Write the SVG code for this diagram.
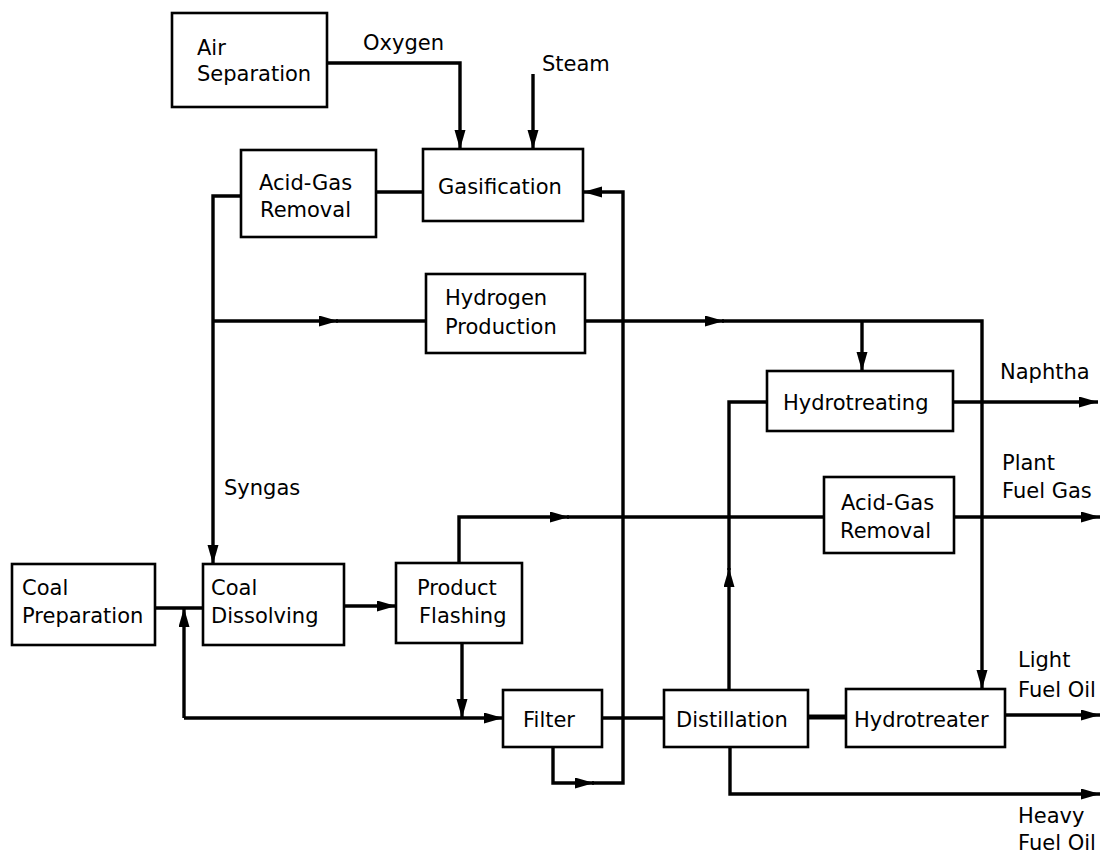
<svg xmlns="http://www.w3.org/2000/svg" width="1106" height="855" viewBox="0 0 1106 855">
<style>
.box{fill:#fff;stroke:#000;stroke-width:2.6}
.t{font-family:"DejaVu Sans",sans-serif;font-size:21px;fill:#000}
.c{fill:none;stroke:#000;stroke-width:3.4;stroke-linejoin:miter}
</style>
<defs>
<marker id="ah" markerUnits="userSpaceOnUse" markerWidth="20" markerHeight="12" refX="19" refY="5.5" orient="auto">
<path d="M0,0 L19,5.5 L0,11 z" fill="#000"/>
</marker>
</defs>
<rect width="1106" height="855" fill="#fff"/>
<g id="connectors">
<path class="c" d="M327,63 H460 V149" marker-end="url(#ah)"/>
<path class="c" d="M533,74 V149" marker-end="url(#ah)"/>
<path class="c" d="M376,192 H423"/>
<path class="c" d="M241,196 H213 V564" marker-end="url(#ah)"/>
<path class="c" d="M213,321 H338" marker-end="url(#ah)"/>
<path class="c" d="M336,321 H426"/>
<path class="c" d="M553,747 V783 H594" marker-end="url(#ah)"/>
<path class="c" d="M592,783 H623 V192 H583" marker-end="url(#ah)"/>
<path class="c" d="M585,321 H724" marker-end="url(#ah)"/>
<path class="c" d="M722,321 H982 V689" marker-end="url(#ah)"/>
<path class="c" d="M862,321 V371" marker-end="url(#ah)"/>
<path class="c" d="M729,690 V568" marker-end="url(#ah)"/>
<path class="c" d="M729,570 V402 H767"/>
<path class="c" d="M953,402 H1098" marker-end="url(#ah)"/>
<path class="c" d="M155,608 H203"/>
<path class="c" d="M462,643 V718" marker-end="url(#ah)"/>
<path class="c" d="M184,718 H503" marker-end="url(#ah)"/>
<path class="c" d="M184,718 V608" marker-end="url(#ah)"/>
<path class="c" d="M344,606 H396" marker-end="url(#ah)"/>
<path class="c" d="M459,563 V517 H569" marker-end="url(#ah)"/>
<path class="c" d="M567,517 H824"/>
<path class="c" d="M954,517 H1100" marker-end="url(#ah)"/>
<path class="c" d="M602,718 H664"/>
<path class="c" d="M808,717 H846" style="stroke-width:5"/>
<path class="c" d="M1005,715 H1100" marker-end="url(#ah)"/>
<path class="c" d="M730,747 V794 H1100" marker-end="url(#ah)"/>
</g>
<g id="air-separation"><rect class="box" x="172" y="13" width="155" height="94"/><text class="t" x="197" y="55">Air</text><text class="t" x="197" y="81">Separation</text></g>
<g id="acid-gas-removal-1"><rect class="box" x="241" y="150" width="135" height="87"/><text class="t" x="259" y="190">Acid-Gas</text><text class="t" x="260" y="217">Removal</text></g>
<g id="gasification"><rect class="box" x="423" y="149" width="160" height="72"/><text class="t" x="438" y="194">Gasification</text></g>
<g id="hydrogen-production"><rect class="box" x="426" y="274" width="159" height="79"/><text class="t" x="445" y="305">Hydrogen</text><text class="t" x="445" y="334">Production</text></g>
<g id="hydrotreating"><rect class="box" x="767" y="371" width="186" height="60"/><text class="t" x="783" y="410">Hydrotreating</text></g>
<g id="acid-gas-removal-2"><rect class="box" x="824" y="477" width="130" height="76"/><text class="t" x="841" y="510">Acid-Gas</text><text class="t" x="840" y="538">Removal</text></g>
<g id="coal-preparation"><rect class="box" x="12" y="564" width="143" height="81"/><text class="t" x="22" y="595">Coal</text><text class="t" x="22" y="623">Preparation</text></g>
<g id="coal-dissolving"><rect class="box" x="203" y="564" width="141" height="81"/><text class="t" x="211" y="595">Coal</text><text class="t" x="211" y="623">Dissolving</text></g>
<g id="product-flashing"><rect class="box" x="396" y="563" width="126" height="80"/><text class="t" x="417" y="595">Product</text><text class="t" x="419" y="623">Flashing</text></g>
<g id="filter"><rect class="box" x="503" y="690" width="99" height="57"/><text class="t" x="523" y="727">Filter</text></g>
<g id="distillation"><rect class="box" x="664" y="690" width="144" height="57"/><text class="t" x="676" y="727">Distillation</text></g>
<g id="hydrotreater"><rect class="box" x="846" y="689" width="159" height="58"/><text class="t" x="854" y="727">Hydrotreater</text></g>
<g id="labels">
<text class="t" x="363" y="50">Oxygen</text>
<text class="t" x="542" y="71">Steam</text>
<text class="t" x="224" y="495">Syngas</text>
<text class="t" x="1000" y="379">Naphtha</text>
<text class="t" x="1002" y="470">Plant</text>
<text class="t" x="1002" y="498">Fuel Gas</text>
<text class="t" x="1018" y="667">Light</text>
<text class="t" x="1018" y="697">Fuel Oil</text>
<text class="t" x="1018" y="823">Heavy</text>
<text class="t" x="1018" y="850">Fuel Oil</text>
</g>
</svg>
